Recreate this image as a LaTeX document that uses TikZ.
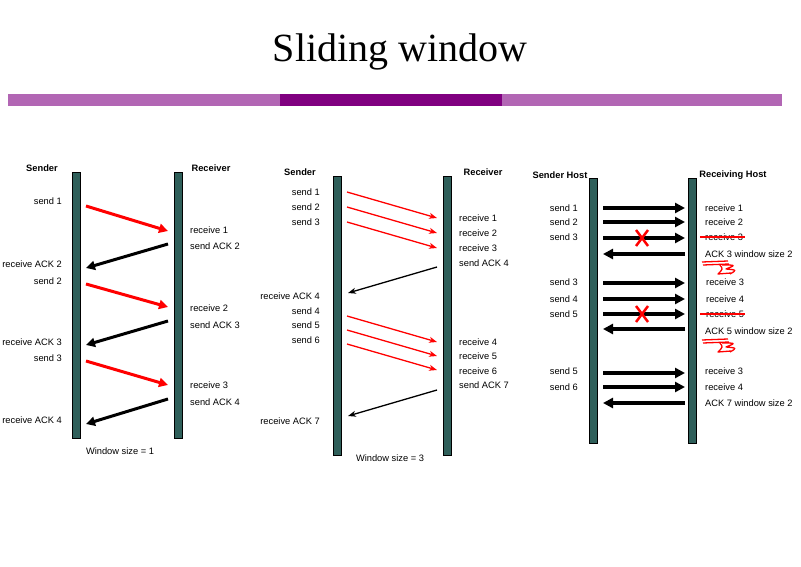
\documentclass[tikz,border=0pt]{standalone}
\usepackage{fontspec}
\setmainfont{Liberation Serif}
\newfontfamily\lsans{Liberation Sans}
\usetikzlibrary{arrows.meta}
\definecolor{bar}{HTML}{2F5F5A}
\definecolor{lpur}{HTML}{B266B4}
\definecolor{dpur}{HTML}{800080}
\begin{document}
\begin{tikzpicture}[x=1pt,y=-1pt,
  lbl/.style={font=\lsans\fontsize{9.3}{10}\selectfont,inner sep=0pt},
  hd/.style={font=\lsans\bfseries\fontsize{9.3}{10}\selectfont,inner sep=0pt},
  l/.style={lbl,anchor=west},
  r/.style={lbl,anchor=east},
  vbar/.style={draw=black,line width=0.4pt,fill=bar},
  rt/.style={red,line width=3pt,-{Triangle[length=9pt,width=9pt]}},
  bt/.style={black,line width=3pt,-{Triangle[length=9pt,width=9pt]}},
  rn/.style={red,line width=1.3pt,-{Stealth[length=8pt,width=6pt]}},
  bn/.style={black,line width=1.3pt,-{Stealth[length=8pt,width=6pt]}},
  ht/.style={black,line width=3.4pt,-{Triangle[length=10pt,width=10pt]}}]
\useasboundingbox (0,0) rectangle (801,567);
\node[font=\fontsize{40}{42}\selectfont] (title) at (400,52) {Sliding window};
\fill[lpur] (8,94) rectangle (782,106);
\fill[dpur] (280,94) rectangle (502,106);
% panel 1
\draw[vbar] (72,172) rectangle (80,438);
\draw[vbar] (174,172) rectangle (182,438);
\node[hd] (s1) at (42,168) {Sender};
\node[hd] (r1) at (211,168) {Receiver};
\coordinate (a1) at (86,206); \coordinate (b1) at (168,231);
\coordinate (a2) at (168,244); \coordinate (b2) at (86,268);
\coordinate (a3) at (86,284); \coordinate (b3) at (168,307);
\coordinate (a4) at (168,321); \coordinate (b4) at (86,345);
\coordinate (a5) at (86,361); \coordinate (b5) at (168,385);
\coordinate (a6) at (168,399); \coordinate (b6) at (86,424);
\draw[rt] (a1) -- (b1); \draw[bt] (a2) -- (b2);
\draw[rt] (a3) -- (b3); \draw[bt] (a4) -- (b4);
\draw[rt] (a5) -- (b5); \draw[bt] (a6) -- (b6);
\node[r] at (62,201) {send 1};
\node[l] at (190,230) {receive 1};
\node[l] at (190,246) {send ACK 2};
\node[r] at (62,264) {receive ACK 2};
\node[r] at (62,281) {send 2};
\node[l] at (190,308) {receive 2};
\node[l] at (190,325) {send ACK 3};
\node[r] at (62,342) {receive ACK 3};
\node[r] at (62,358) {send 3};
\node[l] at (190,385) {receive 3};
\node[l] at (190,402) {send ACK 4};
\node[r] at (62,420) {receive ACK 4};
\node[lbl] at (120,451) {Window size = 1};
% panel 2
\draw[vbar] (333,176) rectangle (341,455);
\draw[vbar] (443,176) rectangle (451,455);
\node[hd] at (300,172) {Sender};
\node[hd] at (483,172) {Receiver};
\foreach \y in {192,207,222,316,330,344}
  {\coordinate (p) at (347,\y); \coordinate (q) at (437,\y+26); \draw[rn] (p) -- (q);}
\coordinate (c1) at (437,267); \coordinate (d1) at (348,293);
\coordinate (c2) at (437,390); \coordinate (d2) at (348,416);
\draw[bn] (c1) -- (d1); \draw[bn] (c2) -- (d2);
\node[r] at (320,192) {send 1};
\node[r] at (320,207) {send 2};
\node[r] at (320,222) {send 3};
\node[l] at (459,218) {receive 1};
\node[l] at (459,233) {receive 2};
\node[l] at (459,248) {receive 3};
\node[l] at (459,263) {send ACK 4};
\node[r] at (320,296) {receive ACK 4};
\node[r] at (320,311) {send 4};
\node[r] at (320,325) {send 5};
\node[r] at (320,340) {send 6};
\node[l] at (459,342) {receive 4};
\node[l] at (459,356) {receive 5};
\node[l] at (459,371) {receive 6};
\node[l] at (459,385) {send ACK 7};
\node[r] at (320,421) {receive ACK 7};
\node[lbl] at (390,458) {Window size = 3};
% panel 3
\draw[vbar] (589,178) rectangle (597,443);
\draw[vbar] (688,178) rectangle (696,443);
\node[hd] at (560,175) {Sender Host};
\node[hd] at (733,175) {Receiving Host};
\foreach \y in {208,222,238,283,299,314,373,387}
  {\coordinate (p) at (603,\y); \coordinate (q) at (685,\y); \draw[ht] (p) -- (q);}
\foreach \y in {254,329,403}
  {\coordinate (p) at (685,\y); \coordinate (q) at (603,\y); \draw[ht] (p) -- (q);}
\foreach \y in {238,314}
  {\draw[red,line width=2.5pt] (636,\y-8) -- (648,\y+8) (648,\y-8) -- (636,\y+8);}
\node[r] at (578,208) {send 1};
\node[r] at (578,222) {send 2};
\node[r] at (578,237) {send 3};
\node[r] at (578,282) {send 3};
\node[r] at (578,299) {send 4};
\node[r] at (578,314) {send 5};
\node[r] at (578,371) {send 5};
\node[r] at (578,387) {send 6};
\node[l] at (705,208) {receive 1};
\node[l] at (705,222) {receive 2};
\node[l] (x3) at (705,237) {receive 3};
\node[l] at (705,254) {ACK 3 window size 2};
\node[l] at (706,282) {receive 3};
\node[l] at (706,299) {receive 4};
\node[l] (x5) at (706,314) {receive 5};
\node[l] at (705,331) {ACK 5 window size 2};
\node[l] at (705,371) {receive 3};
\node[l] at (705,387) {receive 4};
\node[l] at (705,403) {ACK 7 window size 2};
\draw[red,line width=1.3pt] (700,237) -- (745,237);
\draw[red,line width=1.3pt] (700,314) -- (745,314);
\foreach \y in {262,340}{
 \draw[red,line width=1.3pt,line join=round] (702,\y) -- (728,\y-1) (703,\y+3) -- (729,\y+2)
   (720,\y+3) .. controls (723,\y+7) .. (718,\y+12) -- (731,\y+11)
   (722,\y+3) .. controls (736,\y+3) .. (726,\y+7) .. controls (737,\y+8) .. (730,\y+12);}
\end{tikzpicture}
\end{document}
